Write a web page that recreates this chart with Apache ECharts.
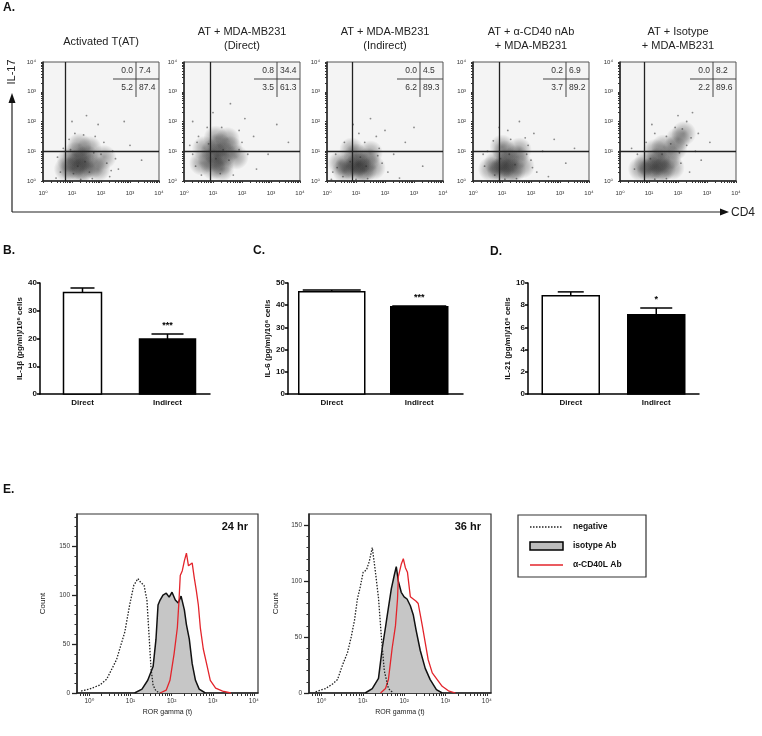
<!DOCTYPE html>
<html>
<head>
<meta charset="utf-8">
<script src="https://cdn.jsdelivr.net/npm/echarts@6/dist/echarts.min.js"></script>
<style>
  html, body { margin: 0; padding: 0; background: #fff; }
  #chart { width: 762px; height: 736px; }
</style>
</head>
<body>
<div id="chart"></div>
<script>
// ---------- panel A: flow dot plots (log10 units) ----------
const flowTitles = ['Activated T(AT)', 'AT + MDA-MB231\n(Direct)', 'AT + MDA-MB231\n(Indirect)',
  'AT + α-CD40 nAb\n+ MDA-MB231', 'AT + Isotype\n+ MDA-MB231'];
const quadUL = ['0.0', '0.8', '0.0', '0.2', '0.0'];
const quadUR = ['7.4', '34.4', '4.5', '6.9', '8.2'];
const quadLL = ['5.2', '3.5', '6.2', '3.7', '2.2'];
const quadLR = ['87.4', '61.3', '89.3', '89.2', '89.6'];
const gateCD4 = [0.77, 0.9, 0.87, 0.9, 0.83];
const gateIL17 = [1, 1, 1, 1, 1];
const logTicks = ['10⁰', '10¹', '10²', '10³', '10⁴'];

// dense part of each cloud
const cloudCore = [
  [[1.0,0.4],[1.2,0.6],[1.4,0.4],[1.1,0.9],[1.5,0.8],[1.3,0.35],[0.9,0.7],[1.7,0.5],[1.6,1.1],[1.25,1.2],[0.8,0.4],[1.9,0.4],[2.1,0.8],[1.35,0.75]],
  [[1.0,1.0],[1.2,1.2],[1.4,0.9],[0.9,0.7],[1.3,0.6],[1.6,1.1],[1.1,1.45],[0.7,1.1],[1.5,1.4],[1.8,0.8],[1.0,0.45],[1.3,0.4],[0.6,0.6],[1.15,0.85]],
  [[0.9,0.4],[1.1,0.6],[1.3,0.35],[0.7,0.5],[1.0,0.85],[1.4,0.7],[0.6,0.35],[1.2,0.35],[1.6,0.45],[0.85,1.05],[1.5,0.95],[0.45,0.6],[1.05,0.55]],
  [[1.0,0.4],[1.2,0.7],[1.4,0.35],[0.8,0.6],[1.1,0.95],[1.5,0.8],[0.9,0.35],[1.3,0.35],[1.7,0.5],[1.0,1.15],[1.6,1.05],[0.6,0.4],[1.15,0.55]],
  [[1.1,0.4],[1.3,0.7],[1.5,0.4],[0.9,0.6],[1.2,1.0],[1.7,0.8],[1.0,0.35],[1.4,0.35],[1.8,0.45],[1.5,1.15],[1.9,1.1],[0.7,0.4],[2.0,1.4],[2.2,1.6],[1.35,0.6]]
];
// sparse outliers
const cloudDots = [
  [[0.6,0.3],[0.5,0.8],[0.7,1.1],[2.0,0.9],[2.2,0.6],[2.4,1.0],[2.1,1.3],[1.8,1.5],[1.4,1.55],[2.6,0.4],[3.0,1.2],[2.8,2.0],[1.5,2.2],[1.0,2.0],[2.3,0.15],[0.45,0.1],[3.4,0.7],[1.9,1.9],[0.9,1.4],[1.1,1.6],[1.3,0.05],[1.7,0.08],[1.2,0.5],[1.45,0.65],[1.05,0.25],[1.6,0.3],[0.95,1.05],[1.75,0.95],[2.35,0.35],[2.5,0.75]],
  [[0.3,0.9],[0.4,0.5],[0.2,1.2],[0.5,1.5],[2.0,1.3],[2.2,0.9],[2.4,1.5],[1.9,1.7],[1.3,1.8],[0.8,1.8],[1.7,0.2],[2.5,0.4],[3.2,1.9],[2.9,0.9],[1.0,2.3],[0.6,0.2],[2.1,2.1],[3.6,1.3],[1.6,2.6],[0.3,2.0],[1.1,0.75],[1.35,1.05],[0.85,1.25],[1.55,0.7],[1.25,0.25],[1.9,1.05],[0.45,1.3]],
  [[0.2,0.3],[0.3,0.9],[1.9,0.6],[2.1,0.3],[1.8,1.1],[1.3,1.3],[0.6,1.3],[2.3,0.9],[1.1,1.6],[2.0,1.7],[1.5,2.1],[3.3,0.5],[2.7,1.3],[0.9,1.9],[2.5,0.1],[0.15,0.05],[1.7,1.5],[3.0,1.8],[1.0,0.05],[1.4,0.08],[0.8,0.65],[1.15,0.8],[1.35,0.5],[0.55,0.15],[1.75,0.85],[0.35,0.45]],
  [[0.4,0.5],[0.35,0.9],[2.0,0.7],[2.2,0.3],[1.9,1.2],[1.3,1.4],[0.7,1.35],[2.4,1.0],[1.2,1.7],[2.1,1.6],[1.6,2.0],[3.2,0.6],[2.8,1.4],[0.9,1.8],[2.6,0.15],[3.5,1.1],[1.8,1.45],[0.5,1.0],[1.1,0.06],[1.5,0.08],[0.95,0.75],[1.25,0.9],[1.45,0.55],[0.75,0.2],[1.85,0.9],[2.05,0.45]],
  [[0.5,0.4],[0.6,0.9],[2.1,0.6],[2.4,0.3],[2.3,1.2],[1.6,1.5],[0.9,1.3],[2.6,1.0],[1.9,1.8],[2.3,2.0],[2.0,2.2],[2.7,1.6],[2.8,0.7],[1.2,1.6],[2.5,2.3],[3.1,1.3],[1.1,1.9],[0.4,1.1],[1.2,0.06],[1.6,0.08],[1.05,0.75],[1.45,0.9],[1.75,1.25],[2.05,0.95],[2.15,1.75],[2.45,1.45]]
];

// ---------- panels B-D: cytokines ----------
const barCats = ['Direct', 'Indirect'];
const il1bMean = [36.6, 19.8];
const il1bErr = [38.2, 21.6];
const il6Mean = [46.1, 39.3];
const il6Err = [46.8, 39.6];
const il21Mean = [8.85, 7.15];
const il21Err = [9.2, 7.75];
const il1bStars = ['', '***'];
const il6Stars = ['', '***'];
const il21Stars = ['', '*'];

// ---------- panel E: RORγt histograms [log10 intensity, count] ----------
const neg24 = [[-0.2,2],[0,4],[0.25,8],[0.42,14],[0.66,34],[0.86,62],[0.98,90],[1.08,110],[1.18,117],[1.25,113],[1.33,110],[1.4,95],[1.45,60],[1.5,25],[1.55,8],[1.62,2],[1.72,0]];
const iso24 = [[1.1,0],[1.28,4],[1.42,13],[1.55,27],[1.62,55],[1.67,90],[1.72,95],[1.79,100],[1.87,102],[1.94,98],[2.01,103],[2.09,95],[2.16,92],[2.23,99],[2.31,85],[2.36,70],[2.43,55],[2.5,30],[2.58,13],[2.67,4],[2.82,0]];
const red24 = [[1.72,0],[1.87,3],[1.96,13],[2.06,40],[2.14,67],[2.18,95],[2.21,120],[2.26,125],[2.31,135],[2.36,143],[2.41,130],[2.45,128],[2.5,133],[2.55,118],[2.6,105],[2.65,90],[2.7,66],[2.77,45],[2.85,30],[2.94,13],[3.07,5],[3.24,2],[3.44,0]];
const neg36 = [[-0.14,1],[0.1,4],[0.27,8],[0.39,12],[0.51,25],[0.63,36],[0.72,50],[0.8,65],[0.87,84],[0.94,95],[1.01,108],[1.09,110],[1.16,118],[1.23,130],[1.3,110],[1.38,85],[1.45,50],[1.52,20],[1.62,4],[1.74,0]];
const iso36 = [[1.06,0],[1.23,4],[1.38,13],[1.47,40],[1.55,59],[1.59,69],[1.69,93],[1.76,105],[1.81,113],[1.86,100],[1.93,90],[2.0,86],[2.07,84],[2.15,78],[2.22,70],[2.29,56],[2.39,38],[2.51,22],[2.63,12],[2.78,3],[2.92,0]];
const red36 = [[1.43,0],[1.55,4],[1.62,12],[1.71,40],[1.79,60],[1.84,84],[1.86,104],[1.93,115],[1.98,120],[2.03,112],[2.08,108],[2.15,86],[2.22,84],[2.29,82],[2.34,80],[2.39,70],[2.44,60],[2.51,45],[2.58,30],[2.68,18],[2.8,12],[2.92,6],[3.07,2],[3.24,0]];
const countTicks = [0, 50, 100, 150];

const FONT = 'Liberation Sans, Arial, DejaVu Sans, sans-serif';
const chart = echarts.init(document.getElementById('chart'));

const grids = [], xAxes = [], yAxes = [], series = [], graphics = [];

// log minor tick positions
function logTickList(lo, hi) {
  const out = [];
  for (let d = -1; d <= 4; d++) {
    for (let k = 1; k < 10; k++) {
      const v = d + Math.log10(k);
      if (v >= lo - 1e-9 && v <= hi + 1e-9) out.push(v);
    }
  }
  return out;
}

// soft blob used to shade the dense part of a cloud
const blobFill = new echarts.graphic.RadialGradient(0.5, 0.5, 0.5, [
  { offset: 0, color: 'rgba(30,30,30,0.5)' },
  { offset: 0.55, color: 'rgba(30,30,30,0.27)' },
  { offset: 1, color: 'rgba(30,30,30,0)' }
]);

// ---- A: dot plots ----
const flowLeft = [43, 184, 327, 473, 620];
const FW = 116, FT = 62, FH = 119;
flowLeft.forEach((left, i) => {
  grids.push({ left: left, top: FT, width: FW, height: FH, show: true,
    backgroundColor: '#f4f4f4', borderColor: '#555', borderWidth: 1 });
  const axisCommon = {
    gridIndex: i, type: 'value', min: 0, max: 4,
    axisLine: { show: true, onZero: false, lineStyle: { color: '#222', width: 1.5 } },
    axisTick: { show: true, customValues: logTickList(0, 4), length: 2, lineStyle: { color: '#333' } },
    axisLabel: { customValues: [0, 1, 2, 3, 4], formatter: v => logTicks[Math.round(v)],
      fontSize: 6, color: '#333', fontFamily: FONT },
    splitLine: { show: false }
  };
  xAxes.push(Object.assign({}, axisCommon, { axisLabel: Object.assign({}, axisCommon.axisLabel, { margin: 9 }) }));
  yAxes.push(Object.assign({}, axisCommon, { axisLabel: Object.assign({}, axisCommon.axisLabel, { margin: 7 }) }));

  series.push({
    type: 'scatter', xAxisIndex: i, yAxisIndex: i, data: cloudCore[i], symbolSize: 25, silent: true,
    itemStyle: { color: blobFill },
    markLine: { silent: true, symbol: 'none', label: { show: false },
      lineStyle: { color: '#222', width: 1.3, type: 'solid' },
      data: [{ xAxis: gateCD4[i] }, { yAxis: gateIL17[i] }] }
  });
  series.push({
    type: 'scatter', xAxisIndex: i, yAxisIndex: i, data: cloudDots[i], symbolSize: 1.8, silent: true,
    itemStyle: { color: 'rgba(40,40,40,0.65)' }
  });

  // title
  const twoLine = flowTitles[i].indexOf('\n') >= 0;
  graphics.push({ type: 'text', x: left + FW / 2, y: twoLine ? 39 : 42,
    style: { text: flowTitles[i], align: 'center', verticalAlign: 'middle', fontSize: 11, lineHeight: 14,
      fill: '#222', fontFamily: FONT } });
  // quadrant stats box
  const R = left + FW;
  graphics.push({ type: 'line', shape: { x1: R - 23, y1: FT, x2: R - 23, y2: FT + 35 }, style: { stroke: '#444', lineWidth: 1 } });
  graphics.push({ type: 'line', shape: { x1: R - 46, y1: FT + 17, x2: R, y2: FT + 17 }, style: { stroke: '#444', lineWidth: 1 } });
  [[quadUL[i], R - 26, FT + 9, 'right'], [quadUR[i], R - 20, FT + 9, 'left'],
   [quadLL[i], R - 26, FT + 26, 'right'], [quadLR[i], R - 20, FT + 26, 'left']].forEach(t => {
    graphics.push({ type: 'text', x: t[1], y: t[2],
      style: { text: t[0], align: t[3], verticalAlign: 'middle', fontSize: 8.5, fill: '#333', fontFamily: FONT } });
  });
});

// ---- B-D: bars ----
const barPanels = [
  { left: 40, width: 170, max: 40, interval: 10, name: 'IL-1β (pg/ml)/10⁶ cells', mean: il1bMean, err: il1bErr, stars: il1bStars, widths: [38, 56], caps: [12, 16] },
  { left: 288, width: 175, max: 50, interval: 10, name: 'IL-6 (pg/ml)/10⁶ cells', mean: il6Mean, err: il6Err, stars: il6Stars, widths: [66, 57], caps: [29, 27] },
  { left: 528, width: 171, max: 10, interval: 2, name: 'IL-21 (pg/ml)/10⁶ cells', mean: il21Mean, err: il21Err, stars: il21Stars, widths: [57, 57], caps: [13, 16] }
];
barPanels.forEach((p, k) => {
  const g = grids.length;
  grids.push({ left: p.left, top: 283, width: p.width, height: 111 });
  xAxes.push({ gridIndex: g, type: 'category', data: barCats,
    axisLine: { lineStyle: { color: '#000', width: 1.5 } }, axisTick: { show: false },
    axisLabel: { fontSize: 8, fontWeight: 'bold', color: '#111', margin: 5, fontFamily: FONT } });
  yAxes.push({ gridIndex: g, type: 'value', min: 0, max: p.max, interval: p.interval,
    axisLine: { show: true, lineStyle: { color: '#000', width: 1.5 } },
    axisTick: { show: true, length: 3, lineStyle: { color: '#000', width: 1.5 } },
    axisLabel: { fontSize: 8, fontWeight: 'bold', color: '#111', margin: 3, fontFamily: FONT },
    splitLine: { show: false },
    name: p.name, nameLocation: 'middle', nameGap: 16,
    nameTextStyle: { fontSize: 8, fontWeight: 'bold', color: '#111', fontFamily: FONT } });
  series.push({
    type: 'custom', xAxisIndex: g, yAxisIndex: g, silent: true,
    data: barCats.map((c, j) => [j, p.mean[j], p.err[j]]),
    encode: { x: 0, y: [1, 2] },
    renderItem: (params, api) => {
      const j = api.value(0), m = api.value(1), e = api.value(2);
      const base = api.coord([j, 0]), pm = api.coord([j, m]), pe = api.coord([j, e]);
      const w = p.widths[j], cap = p.caps[j];
      return { type: 'group', children: [
        { type: 'line', shape: { x1: pm[0], y1: pm[1], x2: pe[0], y2: pe[1] }, style: { stroke: '#000', lineWidth: 1.5 } },
        { type: 'line', shape: { x1: pe[0] - cap, y1: pe[1], x2: pe[0] + cap, y2: pe[1] }, style: { stroke: '#000', lineWidth: 1.5 } },
        { type: 'rect', shape: { x: base[0] - w / 2, y: pm[1], width: w, height: base[1] - pm[1] },
          style: { fill: j ? '#000' : '#fff', stroke: '#000', lineWidth: 1.5 } },
        { type: 'text', style: { text: p.stars[j], x: pe[0], y: pe[1] - 4, align: 'center', verticalAlign: 'bottom',
          fontSize: 9, fontWeight: 'bold', fill: '#000', fontFamily: FONT } }
      ] };
    }
  });
});

// ---- E: histograms ----
const histPanels = [
  { left: 77, width: 181, max: 183, label: '24 hr', neg: neg24, iso: iso24, red: red24, nameGap: 30 },
  { left: 309, width: 182, max: 160, label: '36 hr', neg: neg36, iso: iso36, red: red36, nameGap: 29 }
];
histPanels.forEach(p => {
  const g = grids.length;
  grids.push({ left: p.left, top: 514, width: p.width, height: 693 - 514, show: true,
    borderColor: '#333', borderWidth: 1.2, backgroundColor: 'transparent' });
  const xi = xAxes.length;
  xAxes.push({ gridIndex: g, type: 'value', min: -0.3, max: 4.1,
    axisLine: { show: true, onZero: false, lineStyle: { color: '#222', width: 1.5 } },
    axisTick: { show: true, customValues: logTickList(-0.3, 4.1), length: 3, lineStyle: { color: '#333' } },
    axisLabel: { customValues: [0, 1, 2, 3, 4], formatter: v => logTicks[Math.round(v)],
      fontSize: 6.5, color: '#333', margin: 5, fontFamily: FONT },
    splitLine: { show: false },
    name: 'ROR gamma (t)', nameLocation: 'middle', nameGap: 16,
    nameTextStyle: { fontSize: 7, color: '#222', fontFamily: FONT } });
  const yi = yAxes.length;
  yAxes.push({ gridIndex: g, type: 'value', min: 0, max: p.max,
    axisLine: { show: true, onZero: false, lineStyle: { color: '#222', width: 1.5 } },
    axisTick: { show: true, customValues: countTicks, length: 5, lineStyle: { color: '#222', width: 1.3 } },
    axisLabel: { customValues: countTicks, fontSize: 6.5, color: '#333', margin: 7, fontFamily: FONT },
    splitLine: { show: false },
    name: 'Count', nameLocation: 'middle', nameGap: p.nameGap,
    nameTextStyle: { fontSize: 8, color: '#222', fontFamily: FONT } });
  const minor = [];
  for (let v = 10; v < p.max; v += 10) if (v % 50) minor.push(v);
  yAxes.push({ gridIndex: g, type: 'value', min: 0, max: p.max, position: 'left',
    axisLine: { show: false, onZero: false }, axisLabel: { show: false }, splitLine: { show: false },
    axisTick: { show: true, customValues: minor, length: 2.5, lineStyle: { color: '#333' } } });

  series.push({ type: 'line', xAxisIndex: xi, yAxisIndex: yi, data: p.iso, showSymbol: false, silent: true,
    lineStyle: { color: '#111', width: 1.5 }, areaStyle: { color: '#c6c6c6', opacity: 1 } });
  series.push({ type: 'line', xAxisIndex: xi, yAxisIndex: yi, data: p.red, showSymbol: false, silent: true,
    lineStyle: { color: '#e3242b', width: 1.3 } });
  series.push({ type: 'line', xAxisIndex: xi, yAxisIndex: yi, data: p.neg, showSymbol: false, silent: true,
    lineStyle: { color: '#222', width: 1.3, type: [1.5, 1.5] } });

  graphics.push({ type: 'text', x: p.left + p.width - 10, y: 527,
    style: { text: p.label, align: 'right', verticalAlign: 'middle', fontSize: 11, fontWeight: 'bold', fill: '#111', fontFamily: FONT } });
});

// ---- panel letters, big axes, legend ----
[['A.', 3, 8], ['B.', 3, 251], ['C.', 253, 251], ['D.', 490, 252], ['E.', 3, 490]].forEach(t => {
  graphics.push({ type: 'text', x: t[1], y: t[2],
    style: { text: t[0], verticalAlign: 'middle', fontSize: 12, fontWeight: 'bold', fill: '#111', fontFamily: FONT } });
});
graphics.push({ type: 'line', shape: { x1: 12, y1: 212, x2: 12, y2: 100 }, style: { stroke: '#222', lineWidth: 1.2 } });
graphics.push({ type: 'polygon', shape: { points: [[12, 93], [8.5, 103], [15.5, 103]] }, style: { fill: '#111' } });
graphics.push({ type: 'text', x: 12, y: 72, rotation: Math.PI / 2,
  style: { text: 'IL-17', align: 'center', verticalAlign: 'middle', fontSize: 11, fill: '#222', fontFamily: FONT } });
graphics.push({ type: 'line', shape: { x1: 12, y1: 212, x2: 722, y2: 212 }, style: { stroke: '#222', lineWidth: 1.2 } });
graphics.push({ type: 'polygon', shape: { points: [[729, 212], [720, 208.5], [720, 215.5]] }, style: { fill: '#111' } });
graphics.push({ type: 'text', x: 731, y: 213,
  style: { text: 'CD4', verticalAlign: 'middle', fontSize: 12, fill: '#222', fontFamily: FONT } });

graphics.push({ type: 'rect', shape: { x: 518, y: 515, width: 128, height: 62 }, style: { fill: '#fff', stroke: '#333', lineWidth: 1.2 } });
graphics.push({ type: 'line', shape: { x1: 530, y1: 527, x2: 563, y2: 527 }, style: { stroke: '#222', lineWidth: 1.3, lineDash: [1.5, 1.5] } });
graphics.push({ type: 'rect', shape: { x: 530, y: 542, width: 33, height: 8 }, style: { fill: '#bdbdbd', stroke: '#000', lineWidth: 1.5 } });
graphics.push({ type: 'line', shape: { x1: 530, y1: 565, x2: 563, y2: 565 }, style: { stroke: '#e3242b', lineWidth: 1.5 } });
[['negative', 527], ['isotype Ab', 546], ['α-CD40L Ab', 565]].forEach(t => {
  graphics.push({ type: 'text', x: 573, y: t[1],
    style: { text: t[0], verticalAlign: 'middle', fontSize: 8.5, fontWeight: 'bold', fill: '#111', fontFamily: FONT } });
});

chart.setOption({
  animation: false,
  backgroundColor: '#fff',
  textStyle: { fontFamily: FONT },
  grid: grids,
  xAxis: xAxes,
  yAxis: yAxes,
  series: series,
  graphic: graphics
});
</script>
</body>
</html>
